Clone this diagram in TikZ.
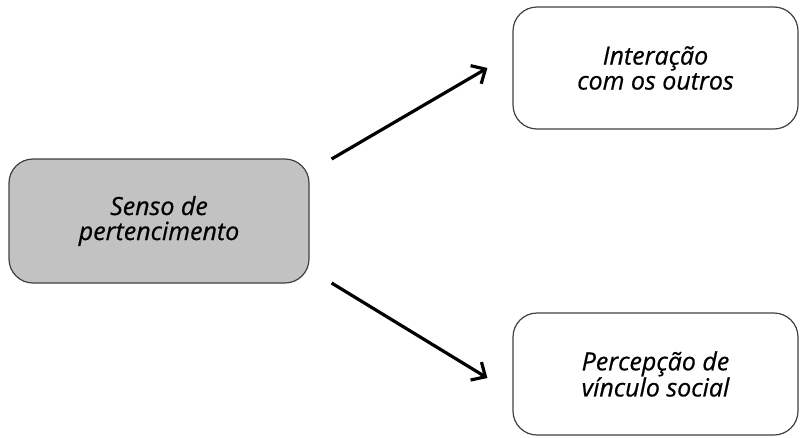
\documentclass[tikz,border=0pt]{standalone}
\usepackage{fontspec}
\setmainfont{Open Sans}[ItalicFeatures={FakeBold=0.6}]
\usetikzlibrary{arrows.meta,calc}
\tikzset{
  box/.style={draw=black!75, line width=1.2pt, rounded corners=24pt,
    align=center, font=\fontsize{25}{25}\selectfont\itshape, inner sep=0pt},
  source/.style={box, fill=black!24, minimum width=300pt, minimum height=124pt},
  target/.style={box, fill=white, minimum width=285pt, minimum height=122pt},
  link/.style={line width=3.2pt, -{Straight Barb[length=11pt,width=21pt,line width=3.2pt]}}
}
\begin{document}
\begin{tikzpicture}[x=1pt,y=-1pt]
  \useasboundingbox (0,0) rectangle (800,437);
  \node[source] (sense) at (159,221) {Senso de\\pertencimento};
  \node[target] (inter) at (655.5,68) {Interação\\com os outros};
  \node[target] (bond) at (655.5,374) {Percepção de\\vínculo social};
  % connector ends, offset from the boxes
  \coordinate (s1) at ($(sense.east)+(22,-62)$);
  \coordinate (s2) at ($(sense.east)+(22,62)$);
  \coordinate (t1) at ($(inter.west)+(-25,0)$);
  \coordinate (t2) at ($(bond.west)+(-25,4)$);
  \draw[link] (s1) -- (t1);
  \draw[link] (s2) -- (t2);
\end{tikzpicture}
\end{document}
